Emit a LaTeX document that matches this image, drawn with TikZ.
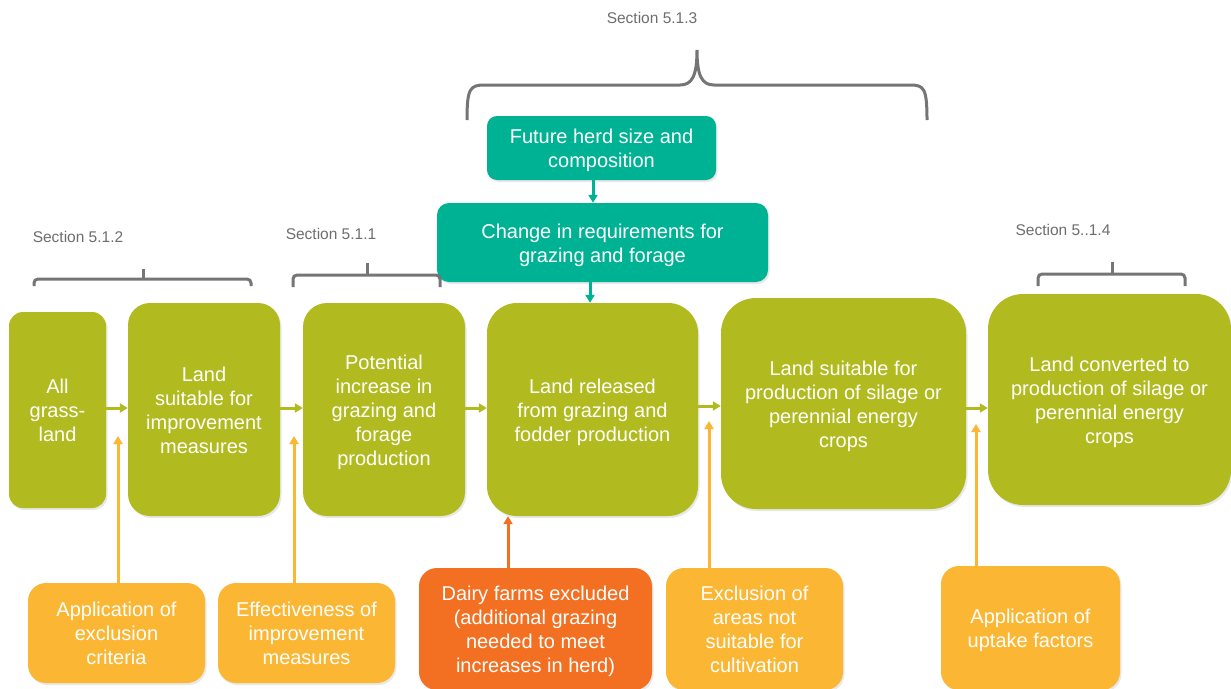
\documentclass[tikz,border=0pt]{standalone}
\usepackage{fontspec}
\setmainfont{Liberation Sans}
\usetikzlibrary{arrows.meta,shadows}
\definecolor{olive}{HTML}{B1BB20}
\definecolor{tealc}{HTML}{00B294}
\definecolor{yel}{HTML}{FBB733}
\definecolor{ora}{HTML}{F37022}
\definecolor{brgray}{HTML}{757575}
\definecolor{txgray}{HTML}{6E6E6E}
\newcommand\myTopStrut{\rule{0pt}{19.5pt}}
\tikzset{
  box/.style={draw=none, text=white, align=center, inner sep=0pt,
    font=\fontsize{20}{24}\selectfont,
    execute at end node={\rule[-4.2pt]{0pt}{0pt}},
    drop shadow={opacity=0.18, shadow xshift=1.5pt, shadow yshift=-2pt}},
  gbox/.style={box, fill=olive},
  tbox/.style={box, fill=tealc},
  ybox/.style={box, fill=yel},
  obox/.style={box, fill=ora},
  arr/.style={line width=3pt, -{Triangle[length=8pt,width=9pt]}},
  garrow/.style={arr, draw=olive},
  tarrow/.style={arr, draw=tealc},
  yarrow/.style={arr, draw=yel},
  oarrow/.style={arr, draw=ora},
  brace/.style={draw=brgray, line width=3pt, rounded corners=4pt},
  seclabel/.style={text=txgray, font=\fontsize{15.5}{18}\selectfont, inner sep=0pt},
}
\begin{document}
\begin{tikzpicture}[x=1pt,y=-1pt]
\clip (0,0) rectangle (1231,688);
\fill[white] (0,0) rectangle (1231,688);

% main row
\node[gbox, minimum width=97pt, minimum height=196pt, rounded corners=14pt] (all) at (57.5,410) {\myTopStrut All\\grass-\\land};
\node[gbox, minimum width=152pt, minimum height=213pt, rounded corners=22pt] (imp) at (204,409.5) {\myTopStrut Land\\suitable for\\improvement\\measures};
\node[gbox, minimum width=162pt, minimum height=213pt, rounded corners=24pt] (pot) at (384,409.5) {\myTopStrut Potential\\increase in\\grazing and\\forage\\production};
\node[gbox, minimum width=211pt, minimum height=213pt, rounded corners=30pt] (rel) at (592.5,409.5) {\myTopStrut Land released\\from grazing and\\fodder production};
\node[gbox, minimum width=245pt, minimum height=211pt, rounded corners=35pt] (prod) at (843.5,403.5) {\myTopStrut Land suitable for\\production of silage or\\perennial energy\\crops};
\node[gbox, minimum width=243pt, minimum height=211pt, rounded corners=35pt] (conv) at (1109.5,399.5) {\myTopStrut Land converted to\\production of silage or\\perennial energy\\crops};

% top
\node[tbox, minimum width=229pt, minimum height=64pt, rounded corners=10pt] (fut) at (601.5,148) {\myTopStrut Future herd size and\\composition};
\node[tbox, minimum width=331pt, minimum height=79pt, rounded corners=12pt] (chg) at (602.5,242.5) {\myTopStrut Change in requirements for\\grazing and forage};

% bottom
\node[ybox, minimum width=177pt, minimum height=100pt, rounded corners=18pt] (crit) at (116.5,633) {\myTopStrut Application of\\exclusion\\criteria};
\node[ybox, minimum width=177pt, minimum height=100pt, rounded corners=18pt] (eff) at (306.5,633) {\myTopStrut Effectiveness of\\improvement\\measures};
\node[obox, minimum width=233pt, minimum height=122pt, rounded corners=18pt] (dairy) at (535.5,629) {\myTopStrut Dairy farms excluded\\(additional grazing\\needed to meet\\increases in herd)};
\node[ybox, minimum width=177pt, minimum height=122pt, rounded corners=18pt] (excl) at (754.5,629) {\myTopStrut Exclusion of\\areas not\\suitable for\\cultivation};
\node[ybox, minimum width=179pt, minimum height=124pt, rounded corners=18pt] (upt) at (1030.5,628) {\myTopStrut Application of\\uptake factors};

% arrows main row
\draw[garrow] (all.east |- 0,408) -- (imp.west |- 0,408);
\draw[garrow] (imp.east |- 0,408) -- (pot.west |- 0,408);
\draw[garrow] (pot.east |- 0,408) -- (rel.west |- 0,408);
\draw[garrow] (rel.east |- 0,406) -- (prod.west |- 0,406);
\draw[garrow] (prod.east |- 0,408) -- (conv.west |- 0,408);

% teal arrows
\draw[tarrow] (fut.south -| 593,0) -- (chg.north -| 593,0);
\draw[tarrow] (chg.south -| 590,0) -- (rel.north -| 590,0);

% upward arrows
\coordinate (c1) at (118,436);
\coordinate (c2) at (294,436);
\coordinate (c3) at (709,421);
\coordinate (c4) at (976,424);
\draw[yarrow] (crit.north -| c1) -- (c1);
\draw[yarrow] (eff.north -| c2) -- (c2);
\draw[oarrow] (dairy.north -| 508,0) -- (rel.south -| 508,0);
\draw[yarrow] (excl.north -| c3) -- (c3);
\draw[yarrow] (upt.north -| c4) -- (c4);

% braces
\draw[brace] (34,286) -- (34,279) -- (251,279) -- (251,286);
\draw[brace] (143,279) -- (143,269);
\draw[brace] (293,287) -- (293,275) -- (440,275) -- (440,287);
\draw[brace] (367,275) -- (367,263);
\draw[brace] (1038,286) -- (1038,274) -- (1185,274) -- (1185,286);
\draw[brace] (1112,274) -- (1112,262);
\draw[draw=brgray, line width=3pt] (467,120) .. controls (467,88) and (470,85) .. (485,85) -- (680,85) .. controls (692,85) and (697,76) .. (697,50) .. controls (697,76) and (702,85) .. (714,85) -- (910,85) .. controls (924,85) and (927,88) .. (927,120);

% section labels
\node[seclabel] (s512) at (78,237) {Section 5.1.2};
\node[seclabel] (s511) at (331,234) {Section 5.1.1};
\node[seclabel] (s513) at (652,18) {Section 5.1.3};
\node[seclabel] (s514) at (1063,230) {Section 5..1.4};
\end{tikzpicture}
\end{document}
